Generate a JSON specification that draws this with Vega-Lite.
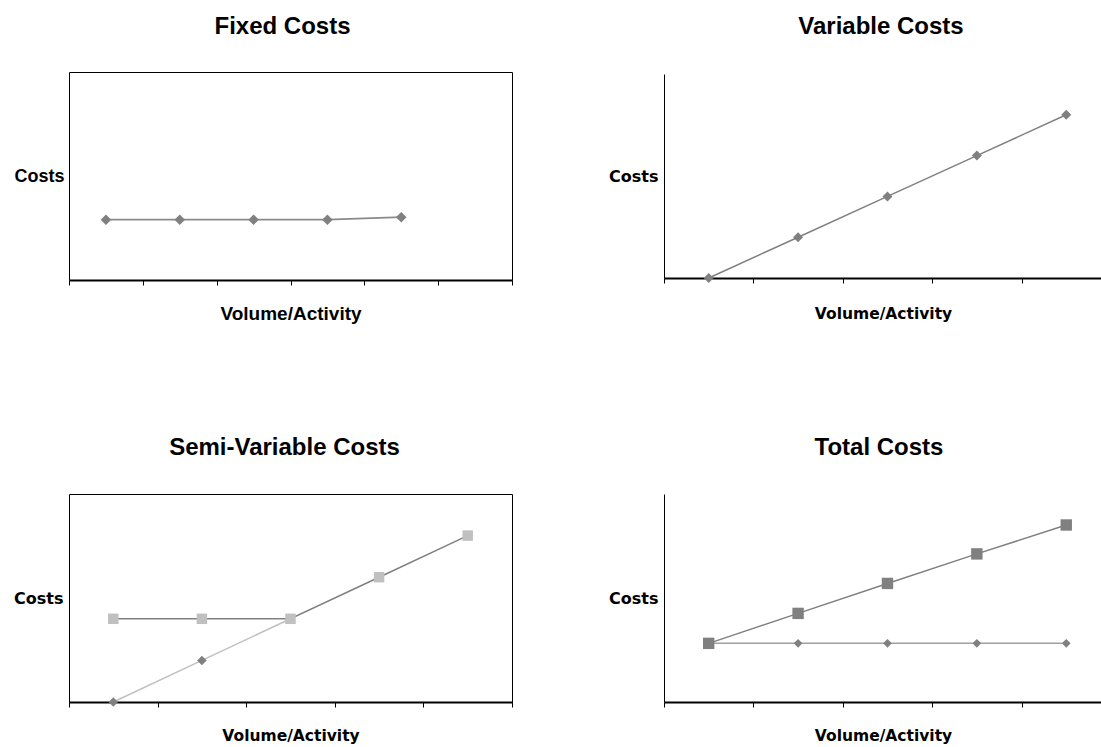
{
  "$schema": "https://vega.github.io/schema/vega-lite/v6.json",
  "background": "white",
  "padding": {"left": 13, "top": 14, "right": 0, "bottom": 0},
  "datasets": {
    "fixed": [
      {"s": "d", "x": 1, "y": 29.0},
      {"s": "d", "x": 2, "y": 29.0},
      {"s": "d", "x": 3, "y": 29.0},
      {"s": "d", "x": 4, "y": 29.0},
      {"s": "d", "x": 5, "y": 30.2}
    ],
    "variable": [
      {"s": "d", "x": 1, "y": 0},
      {"s": "d", "x": 2, "y": 20},
      {"s": "d", "x": 3, "y": 40},
      {"s": "d", "x": 4, "y": 60},
      {"s": "d", "x": 5, "y": 80}
    ],
    "semi": [
      {"s": "d", "x": 1, "y": 0},
      {"s": "d", "x": 2, "y": 20},
      {"s": "d", "x": 3, "y": 40},
      {"s": "q", "x": 1, "y": 40},
      {"s": "q", "x": 2, "y": 40},
      {"s": "q", "x": 3, "y": 40},
      {"s": "q", "x": 4, "y": 60},
      {"s": "q", "x": 5, "y": 80}
    ],
    "total": [
      {"s": "d", "x": 1, "y": 28.2},
      {"s": "d", "x": 2, "y": 28.2},
      {"s": "d", "x": 3, "y": 28.2},
      {"s": "d", "x": 4, "y": 28.2},
      {"s": "d", "x": 5, "y": 28.2},
      {"s": "q", "x": 1, "y": 28.2},
      {"s": "q", "x": 2, "y": 42.6},
      {"s": "q", "x": 3, "y": 57.0},
      {"s": "q", "x": 4, "y": 71.2},
      {"s": "q", "x": 5, "y": 85.1}
    ]
  },
  "columns": 2,
  "spacing": {"column": 152, "row": 214},
  "bounds": "flush",
  "align": "each",
  "center": true,
  "config": {
    "view": {"stroke": null},
    "font": "Liberation Sans",
    "title": {"font": "Liberation Sans", "fontSize": 24, "fontWeight": "bold", "color": "black", "offset": 33},
    "axisX": {"labels": false, "grid": false, "domainColor": "black", "domainWidth": 2, "tickColor": "black", "tickSize": 5, "tickWidth": 1, "titleColor": "black", "titleFontWeight": "bold", "titlePadding": 19},
    "axisY": {"labels": false, "ticks": false, "grid": false, "domain": false, "titleAngle": 0, "titleAlign": "right", "titleBaseline": "middle", "titleColor": "black", "titleFontWeight": "bold", "titlePadding": 5}
  },
  "concat": [
    {
      "width": 443, "height": 208,
      "title": {"text": "Fixed Costs", "dx": -8},
      "view": {"stroke": "black", "strokeWidth": 1},
      "data": {"name": "fixed"},
      "encoding": {
        "x": {"field": "x", "type": "quantitative", "scale": {"domain": [0.5, 6.5]},
              "axis": {"title": "Volume/Activity", "values": [0.5, 1.5, 2.5, 3.5, 4.5, 5.5, 6.5], "titleFont": "Liberation Sans", "titleFontSize": 19}},
        "y": {"field": "y", "type": "quantitative", "scale": {"domain": [0, 100]},
              "axis": {"title": "Costs", "titleFont": "Liberation Sans", "titleFontSize": 18}}
      },
      "layer": [
        {"mark": {"type": "line", "color": "#8a8a8a", "strokeWidth": 1.8}},
        {"mark": {"type": "point", "shape": "diamond", "filled": true, "color": "#808080", "size": 110, "opacity": 1}}
      ]
    },
    {
      "width": 438, "height": 204,
      "title": {"text": "Variable Costs", "dx": -2, "offset": 35},
      "data": {"name": "variable"},
      "encoding": {
        "x": {"field": "x", "type": "quantitative", "scale": {"domain": [0.5, 5.4]},
              "axis": {"title": "Volume/Activity", "values": [0.5, 1.5, 2.5, 3.5, 4.5], "titleFont": "DejaVu Sans", "titleFontSize": 15.5, "titlePadding": 23}},
        "y": {"field": "y", "type": "quantitative", "scale": {"domain": [0, 100]},
              "axis": {"title": "Costs", "titleFont": "DejaVu Sans", "titleFontSize": 16, "titlePadding": 6, "domain": true, "domainColor": "black", "domainWidth": 1}}
      },
      "layer": [
        {"mark": {"type": "rule", "color": "black", "strokeWidth": 1}, "data": {"values": [{}]}, "encoding": {"y": {"datum": 100}}},
        {"mark": {"type": "line", "color": "#808080", "strokeWidth": 1.5}},
        {"mark": {"type": "point", "shape": "diamond", "filled": true, "color": "#808080", "size": 100, "opacity": 1}}
      ]
    },
    {
      "width": 443, "height": 208,
      "title": {"text": "Semi-Variable Costs", "dx": -6, "offset": 34},
      "view": {"stroke": "black", "strokeWidth": 1},
      "data": {"name": "semi"},
      "encoding": {
        "x": {"field": "x", "type": "quantitative", "scale": {"domain": [0.5, 5.5]},
              "axis": {"title": "Volume/Activity", "values": [0.5, 1.5, 2.5, 3.5, 4.5, 5.5], "titleFont": "DejaVu Sans", "titleFontSize": 15.5, "titlePadding": 21}},
        "y": {"field": "y", "type": "quantitative", "scale": {"domain": [0, 100]},
              "axis": {"title": "Costs", "titleFont": "DejaVu Sans", "titleFontSize": 16, "titlePadding": 6}}
      },
      "layer": [
        {"transform": [{"filter": "datum.s == 'd'"}], "mark": {"type": "line", "color": "#c0c0c0", "strokeWidth": 1.5}},
        {"transform": [{"filter": "datum.s == 'q'"}], "mark": {"type": "line", "color": "#808080", "strokeWidth": 1.5}},
        {"transform": [{"filter": "datum.s == 'd'"}], "mark": {"type": "point", "shape": "diamond", "filled": true, "color": "#808080", "size": 90, "opacity": 1}},
        {"transform": [{"filter": "datum.s == 'q'"}], "mark": {"type": "point", "shape": "square", "filled": true, "color": "#c0c0c0", "size": 110, "opacity": 1}}
      ]
    },
    {
      "width": 438, "height": 208,
      "title": {"text": "Total Costs", "dx": -4, "offset": 34},
      "data": {"name": "total"},
      "encoding": {
        "x": {"field": "x", "type": "quantitative", "scale": {"domain": [0.5, 5.4]},
              "axis": {"title": "Volume/Activity", "values": [0.5, 1.5, 2.5, 3.5, 4.5], "titleFont": "DejaVu Sans", "titleFontSize": 15.5, "titlePadding": 21}},
        "y": {"field": "y", "type": "quantitative", "scale": {"domain": [0, 100]},
              "axis": {"title": "Costs", "titleFont": "DejaVu Sans", "titleFontSize": 16, "titlePadding": 6, "domain": true, "domainColor": "black", "domainWidth": 1}}
      },
      "layer": [
        {"mark": {"type": "rule", "color": "black", "strokeWidth": 1}, "data": {"values": [{}]}, "encoding": {"y": {"datum": 100}}},
        {"transform": [{"filter": "datum.s == 'd'"}], "mark": {"type": "line", "color": "#a0a0a0", "strokeWidth": 1.5}},
        {"transform": [{"filter": "datum.s == 'q'"}], "mark": {"type": "line", "color": "#808080", "strokeWidth": 1.5}},
        {"transform": [{"filter": "datum.s == 'd'"}], "mark": {"type": "point", "shape": "diamond", "filled": true, "color": "#808080", "size": 75, "opacity": 1}},
        {"transform": [{"filter": "datum.s == 'q'"}], "mark": {"type": "point", "shape": "square", "filled": true, "color": "#808080", "size": 130, "opacity": 1}}
      ]
    }
  ]
}
